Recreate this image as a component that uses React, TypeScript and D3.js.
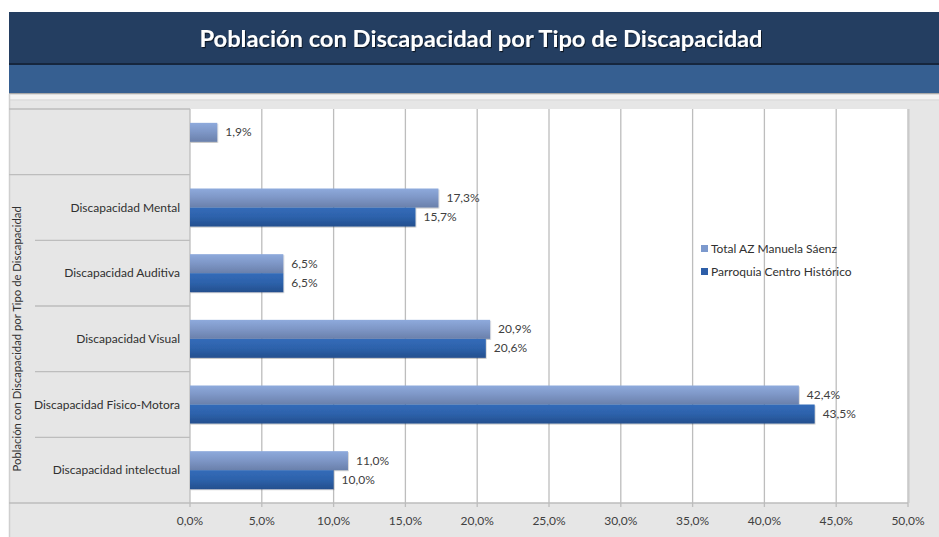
import React from "react";
import * as d3 from "d3";

const categories = [
  "",
  "Discapacidad Mental",
  "Discapacidad Auditiva",
  "Discapacidad Visual",
  "Discapacidad Fisico-Motora",
  "Discapacidad intelectual",
];
const seriesNames = ["Total AZ Manuela Sáenz", "Parroquia Centro Histórico"];
const totalAZ: (number | null)[] = [1.9, 17.3, 6.5, 20.9, 42.4, 11.0];
const parroquia: (number | null)[] = [null, 15.7, 6.5, 20.6, 43.5, 10.0];
const xTicks = [0, 5, 10, 15, 20, 25, 30, 35, 40, 45, 50];
const title = "Población con Discapacidad por Tipo de Discapacidad";
const yTitle = "Población con Discapacidad por Tipo de Discapacidad";

const W = 939;
const H = 537;
const FONT = "Lato, 'Open Sans', sans-serif";
const fmt = (v: number) => v.toFixed(1).replace(".", ",") + "%";

export default function App() {
  const plotL = 190, plotR = 908, plotT = 109, plotB = 503;
  const x = d3.scaleLinear().domain([0, 50]).range([plotL, plotR]);
  const y = d3.scaleBand<string>().domain(categories).range([plotT, plotB]).padding(0);
  const bw = y.bandwidth();
  const y1 = d3.scaleBand<string>().domain(seriesNames).range([0, bw]).paddingInner(0).paddingOuter(0.728);
  const seriesData = [totalAZ, parroquia];
  const gradIds = ["gTotal", "gParr"];

  return (
    <svg width={W} height={H} style={{ position: "absolute", left: 0, top: 0 }} fontFamily={FONT}>
      <defs>
        <linearGradient id="gTotal" x1="0" y1="0" x2="0" y2="1">
          <stop offset="0" stopColor="#8eaadc" />
          <stop offset="0.45" stopColor="#7f98c8" />
          <stop offset="1" stopColor="#6a80ab" />
        </linearGradient>
        <linearGradient id="gParr" x1="0" y1="0" x2="0" y2="1">
          <stop offset="0" stopColor="#336bb9" />
          <stop offset="0.5" stopColor="#2d62ab" />
          <stop offset="1" stopColor="#244f8e" />
        </linearGradient>
        <filter id="tshadow" x="-5%" y="-20%" width="110%" height="140%">
          <feDropShadow dx="1" dy="1.2" stdDeviation="0.6" floodColor="#000" floodOpacity="0.6" />
        </filter>
        <filter id="bshadow" x="-5%" y="-20%" width="110%" height="160%">
          <feDropShadow dx="0.6" dy="1" stdDeviation="0.6" floodColor="#000" floodOpacity="0.25" />
        </filter>
      </defs>

      {/* frame background */}
      <rect x={9} y={12} width={W - 9} height={H - 12} fill="#e6e6e6" />
      {/* title band */}
      <rect x={9} y={12} width={W - 9} height={51} fill="#243e61" />
      <rect x={9} y={63} width={W - 9} height={2} fill="#16263d" />
      <rect x={9} y={65} width={W - 9} height={28} fill="#365f91" />
      <rect x={9} y={93} width={W - 9} height={1.5} fill="#a8a8a8" />
      <rect x={9} y={94.5} width={W - 9} height={5} fill="#f3f3f3" />
      <rect x={9} y={99.5} width={W - 9} height={1} fill="#d8d8d8" />
      <line x1={9.5} x2={9.5} y1={94} y2={H} stroke="#cfcfcf" strokeWidth={1.5} />
      <text
        x={481}
        y={47}
        textAnchor="middle"
        fill="#ffffff"
        fontSize={23.7}
        fontWeight="bold"
        filter="url(#tshadow)"
      >
        {title}
      </text>

      {/* plot area */}
      <rect x={plotL} y={plotT} width={plotR - plotL} height={plotB - plotT} fill="#ffffff" />

      {/* gridlines + ticks */}
      {xTicks.map((t) => (
        <line key={"g" + t} x1={x(t)} x2={x(t)} y1={plotT} y2={plotB + 4} stroke="#bdbdbd" strokeWidth={1.3} />
      ))}
      <line x1={plotR + 1} x2={plotR + 1} y1={plotT} y2={plotB} stroke="#c8c8c8" strokeWidth={1} />

      {/* category separators */}
      <line x1={9} x2={plotL} y1={plotT} y2={plotT} stroke="#bdbdbd" strokeWidth={1.3} />
      {categories.slice(1).map((c, i) => (
        <line
          key={"s" + c}
          x1={i === 0 ? 9 : 35}
          x2={plotL}
          y1={y(c)!}
          y2={y(c)!}
          stroke="#bdbdbd"
          strokeWidth={1.3}
        />
      ))}
      <line x1={9} x2={plotR} y1={plotB} y2={plotB} stroke="#bdbdbd" strokeWidth={1.3} />

      {/* bars */}
      {seriesData.map((vals, si) =>
        categories.map((c, ci) => {
          const v = vals[ci];
          if (v == null) return null;
          const by = y(c)! + y1(seriesNames[si])!;
          const bh = y1.bandwidth();
          return (
            <g key={si + "-" + ci}>
              <rect
                x={x(0)}
                y={by}
                width={x(v) - x(0)}
                height={bh}
                fill={`url(#${gradIds[si]})`}
                filter="url(#bshadow)"
              />
              <text x={x(v) + 8} y={by + bh / 2 + 4} fontSize={12} fill="#404040">
                {fmt(v)}
              </text>
            </g>
          );
        })
      )}

      {/* category labels */}
      {categories.map((c) => (
        <text key={"l" + c} x={180} y={y(c)! + bw / 2 + 4} textAnchor="end" fontSize={12} fill="#303030">
          {c}
        </text>
      ))}

      {/* y title */}
      <text
        transform={`translate(21, ${(y(categories[1])! + plotB) / 2}) rotate(-90)`}
        textAnchor="middle"
        fontSize={11.3}
        fill="#303030"
      >
        {yTitle}
      </text>

      {/* x tick labels */}
      {xTicks.map((t) => (
        <text key={"t" + t} x={x(t)} y={525} textAnchor="middle" fontSize={12} fill="#404040">
          {fmt(t)}
        </text>
      ))}

      {/* legend */}
      {seriesNames.map((s, i) => (
        <g key={"lg" + s} transform={`translate(701, ${245 + i * 23})`}>
          <rect x={0} y={0} width={7} height={7} fill={i === 0 ? "#7c99cd" : "#2d5ea8"} />
          <text x={10} y={7.5} fontSize={12} fill="#303030">
            {s}
          </text>
        </g>
      ))}
    </svg>
  );
}
